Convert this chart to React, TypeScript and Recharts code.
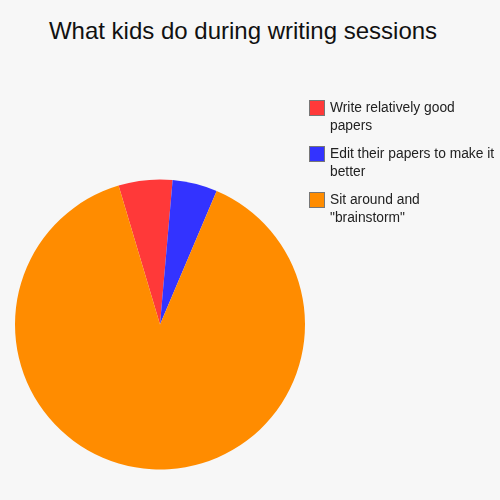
import React from "react";
import { PieChart, Pie, Cell, Legend } from "recharts";

// Slices, in legend order (values read as percent of the circle)
const labels = [
  "Write relatively good papers",
  "Edit their papers to make it better",
  'Sit around and "brainstorm"',
];
const values = [6, 5, 89];
const colors = ["#ff3939", "#3333ff", "#ff8c00"];

const data = labels.map((name, i) => ({ name, value: values[i] }));

const FONT = '"Liberation Sans", Arial, sans-serif';

function SideLegend() {
  return (
    <div style={{ width: 192, fontFamily: FONT, fontSize: 13.8, color: "#222" }}>
      {data.map((d, i) => (
        <div key={d.name} style={{ display: "flex", alignItems: "flex-start", marginBottom: 11 }}>
          <div
            style={{
              width: 14,
              height: 14,
              flex: "0 0 auto",
              background: colors[i],
              border: "1px solid #777",
              marginRight: 5,
            }}
          />
          <div style={{ width: 166, lineHeight: "18px", marginTop: -1 }}>{d.name}</div>
        </div>
      ))}
    </div>
  );
}

export default function App() {
  return (
    <div
      style={{
        position: "fixed",
        left: 0,
        top: 0,
        width: 500,
        height: 500,
        background: "#f7f7f7",
      }}
    >
      <div
        style={{
          position: "absolute",
          left: 0,
          width: 486,
          top: 17,
          textAlign: "center",
          fontFamily: FONT,
          fontSize: 24,
          color: "#111",
        }}
      >
        What kids do during writing sessions
      </div>
      <PieChart
        width={500}
        height={500}
        margin={{ top: 0, right: 0, bottom: 0, left: 0 }}
        style={{ position: "absolute", left: 0, top: 0 }}
      >
        <Pie
          data={data}
          dataKey="value"
          nameKey="name"
          cx={160}
          cy={324.5}
          outerRadius={145}
          startAngle={106.6}
          endAngle={-253.4}
          stroke="none"
          isAnimationActive={false}
        >
          {data.map((d, i) => (
            <Cell key={d.name} fill={colors[i]} />
          ))}
        </Pie>
        <Legend
          layout="vertical"
          content={() => <SideLegend />}
          wrapperStyle={{ position: "absolute", left: 309, top: 100, width: 192 }}
        />
      </PieChart>
    </div>
  );
}
